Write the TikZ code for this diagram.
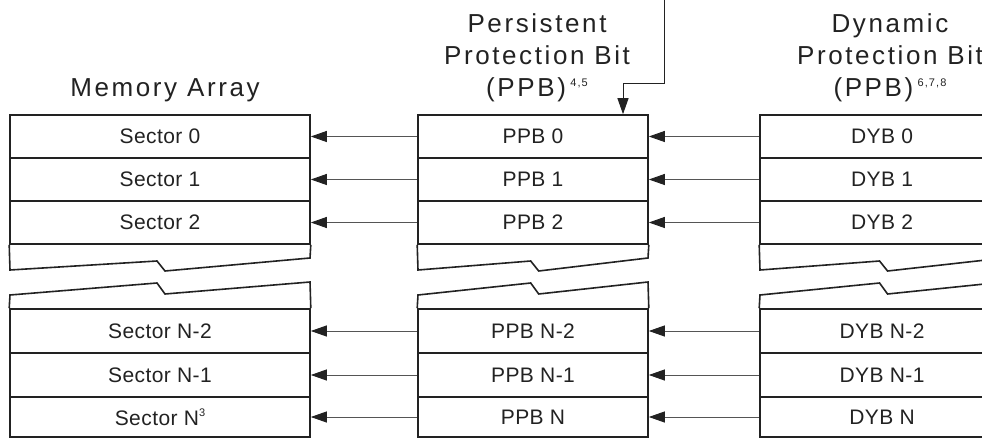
\documentclass[tikz,border=0pt]{standalone}
\usepackage{fontspec}
\setmainfont{Liberation Sans}
\newfontfamily\headfont[LetterSpace=10]{Liberation Sans}
\newfontfamily\cellfont[LetterSpace=2]{Liberation Sans}
\usetikzlibrary{arrows.meta,calc}
\definecolor{ink}{HTML}{222222}
\definecolor{wire}{HTML}{555555}
\tikzset{
  cell/.style={draw=ink, line width=1.6pt, inner sep=0pt, text=ink, font=\cellfont\fontsize{21}{21}\selectfont},
  head/.style={align=center, inner sep=0pt, text=ink, font=\headfont\fontsize{26}{32}\selectfont},
  wall/.style={draw=ink, line width=1.6pt, line join=miter},
  link/.style={draw=wire, line width=0.9pt, -{Triangle[length=16pt,width=11pt,color=ink]}},
  feedline/.style={draw=ink, line width=1pt, -{Triangle[length=16pt,width=11pt]}}
}
\begin{document}
\begin{tikzpicture}[x=1pt,y=-1pt]
\useasboundingbox (0,0) rectangle (982,438);
% column titles
\node[head, anchor=base] (memtitle) at (165,97) {Memory Array};
\node[head, anchor=north] (ppbtitle) at (537,13) {Persistent\\Protection Bit\\(PPB)\,\raisebox{10pt}{\fontsize{11}{11}\selectfont 4,5}};
\node[head, anchor=north] (dybtitle) at (890,13) {Dynamic\\Protection Bit\\(PPB)\,\raisebox{10pt}{\fontsize{11}{11}\selectfont 6,7,8}};
% rows of the three columns
\foreach \n/\y/\h/\k/\sk in {0/136.5/43/0/0, 1/179.5/43/1/1, 2/222.5/43/2/2,
    3/331/44/N-2/N-2, 4/375/44/N-1/N-1, 5/417/40/N/{N\raisebox{9pt}{\fontsize{11}{11}\selectfont 3}}}{
  \node[cell, minimum width=300pt, minimum height=\h pt] (s\n) at (160,\y) {Sector \sk};
  \node[cell, minimum width=230pt, minimum height=\h pt] (p\n) at (533,\y) {PPB \k};
  \node[cell, minimum width=244pt, minimum height=\h pt] (d\n) at (882,\y) {DYB \k};
  \draw[link] (p\n.west) -- (s\n.east);
  \draw[link] (d\n.west) -- (p\n.east);
}
% broken ends
\foreach \c/\L/\W in {s/10/300, p/418/230, d/760/244}{
  \pgfmathsetmacro\M{\L+0.49*\W}
  \draw[wall] (\c2.south west) -- (\L,270) -- (\M,261) -- (\M+8,271) -- (\L+\W,258) -- (\c2.south east);
  \draw[wall] (\c3.north west) -- (\L,295) -- (\M,283) -- (\M+8,294) -- (\L+\W,282) -- (\c3.north east);
}
% input to the PPB array
\coordinate (feed) at (664,0);
\coordinate (bend) at (623,84);
\draw[feedline] (feed) |- (bend) -- (p0.north -| bend);
\end{tikzpicture}
\end{document}
